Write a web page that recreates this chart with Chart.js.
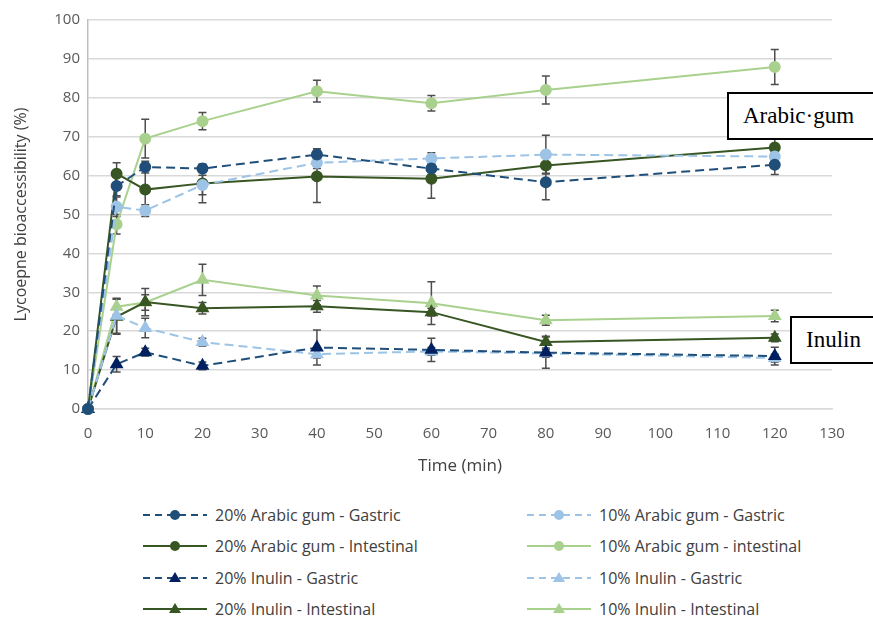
<!DOCTYPE html>
<html lang="en">
<head>
    <meta charset="UTF-8">
    <title>Lycopene bioaccessibility</title>
    <script src="https://cdn.jsdelivr.net/npm/chart.js"></script>
    <style>
        body { margin: 0; background: #fff; }
        #wrap { position: relative; width: 873px; height: 618px; overflow: hidden; }
        .note {
            position: absolute; background: #fff; border: 2px solid #000;
            font-family: 'Liberation Serif', serif; font-size: 23px; color: #000;
            box-sizing: border-box; padding-left: 14px; line-height: 44px; height: 48px;
        }
        #legend {
            position: absolute; left: 143px; top: 499px;
            display: grid; grid-template-columns: 384px 300px; row-gap: 0;
            font-family: 'Open Sans', sans-serif; font-size: 16px; color: #404040;
        }
        .item { display: flex; align-items: center; height: 31.5px; white-space: nowrap; }
        .item svg { margin-right: 8px; }
    </style>
</head>
<body>
<div id="wrap">
    <canvas id="chart" width="873" height="480"></canvas>
    <div class="note" style="left:727px; top:92px; width:160px;">Arabic·gum</div>
    <div class="note" style="left:790px; top:316px; width:100px;">Inulin</div>
    <div id="legend"></div>
</div>

<script>
    // sampling times (min)
    const times = [0, 5, 10, 20, 40, 60, 80, 120];

    // series means and error (±)
    const ag20Gastric       = [0, 57.3, 62.2, 61.8, 65.4, 61.8, 58.3, 62.8];
    const ag20GastricErr    = [0, 2.5, 1.5, 1.0, 1.5, 1.5, 4.5, 2.5];
    const ag10Gastric       = [0, 52.0, 51.0, 57.6, 63.3, 64.4, 65.4, 64.9];
    const ag10GastricErr    = [0, 2.5, 1.5, 2.5, 1.5, 1.5, 5.0, 1.0];
    const ag20Intestinal    = [0, 60.5, 56.4, 58.0, 59.8, 59.2, 62.6, 67.2];
    const ag20IntestinalErr = [0, 2.8, 5.0, 5.0, 6.7, 5.0, 2.0, 2.5];
    const ag10Intestinal    = [0, 47.5, 69.5, 74.0, 81.7, 78.6, 82.0, 87.9];
    const ag10IntestinalErr = [0, 2.5, 5.0, 2.2, 2.8, 2.0, 3.6, 4.5];
    const in20Gastric       = [0, 11.5, 14.6, 11.1, 15.8, 15.2, 14.5, 13.6];
    const in20GastricErr    = [0, 2.0, 1.0, 1.0, 4.5, 3.0, 4.0, 2.3];
    const in10Gastric       = [0, 24.0, 20.8, 17.2, 14.1, 14.8, 14.3, 13.1];
    const in10GastricErr    = [0, 4.5, 2.5, 1.0, 1.0, 1.0, 1.0, 1.0];
    const in20Intestinal    = [0, 23.7, 27.5, 25.9, 26.4, 24.9, 17.2, 18.3];
    const in20IntestinalErr = [0, 4.5, 3.5, 1.5, 1.5, 1.0, 1.5, 1.0];
    const in10Intestinal    = [0, 26.3, 27.4, 33.2, 29.2, 27.2, 22.8, 23.9];
    const in10IntestinalErr = [0, 2.0, 2.0, 4.0, 2.4, 5.5, 1.3, 1.5];

    const labels = [
        '20% Arabic gum - Gastric', '10% Arabic gum - Gastric',
        '20% Arabic gum - Intestinal', '10% Arabic gum - intestinal',
        '20% Inulin - Gastric', '10% Inulin - Gastric',
        '20% Inulin - Intestinal', '10% Inulin - Intestinal'
    ];

    const FONT = "'Open Sans', sans-serif";

    function series(label, values, errors, line, marker, dashed, shape) {
        return {
            label: label,
            data: times.map((t, i) => ({ x: t, y: values[i] })),
            errors: errors,
            borderColor: line,
            backgroundColor: marker,
            pointBackgroundColor: marker,
            pointBorderColor: marker,
            borderWidth: 2,
            borderDash: dashed ? [9, 5] : [],
            pointStyle: shape,
            pointRadius: shape === 'triangle' ? 6 : 5,
            clip: false,
            tension: 0
        };
    }

    const datasets = [
        series(labels[0], ag20Gastric, ag20GastricErr, '#1F4E79', '#1F4E79', true, 'circle'),
        series(labels[1], ag10Gastric, ag10GastricErr, '#9DC3E6', '#9DC3E6', true, 'circle'),
        series(labels[2], ag20Intestinal, ag20IntestinalErr, '#375623', '#375623', false, 'circle'),
        series(labels[3], ag10Intestinal, ag10IntestinalErr, '#A9D18E', '#A9D18E', false, 'circle'),
        series(labels[4], in20Gastric, in20GastricErr, '#1F4E79', '#002060', true, 'triangle'),
        series(labels[5], in10Gastric, in10GastricErr, '#9DC3E6', '#9DC3E6', true, 'triangle'),
        series(labels[6], in20Intestinal, in20IntestinalErr, '#375623', '#375623', false, 'triangle'),
        series(labels[7], in10Intestinal, in10IntestinalErr, '#A9D18E', '#A9D18E', false, 'triangle')
    ];

    // error bars drawn from the scales, under the markers
    const errorBars = {
        id: 'errorBars',
        beforeDatasetsDraw(chart) {
            const ctx = chart.ctx;
            const y = chart.scales.y;
            ctx.save();
            ctx.strokeStyle = '#4d4d4d';
            ctx.lineWidth = 1.5;
            chart.data.datasets.forEach((ds, di) => {
                const meta = chart.getDatasetMeta(di);
                meta.data.forEach((pt, i) => {
                    const e = ds.errors[i];
                    if (!e) return;
                    const v = ds.data[i].y;
                    const top = y.getPixelForValue(v + e);
                    const bot = y.getPixelForValue(v - e);
                    const px = pt.x;
                    ctx.beginPath();
                    ctx.moveTo(px, top); ctx.lineTo(px, bot);
                    ctx.moveTo(px - 4, top); ctx.lineTo(px + 4, top);
                    ctx.moveTo(px - 4, bot); ctx.lineTo(px + 4, bot);
                    ctx.stroke();
                });
            });
            ctx.restore();
        }
    };

    new Chart(document.getElementById('chart'), {
        type: 'line',
        data: { datasets: datasets },
        plugins: [errorBars],
        options: {
            responsive: false,
            animation: false,
            layout: { padding: { top: 20, right: 41, bottom: 0, left: 0 } },
            plugins: { legend: { display: false }, tooltip: { enabled: false } },
            scales: {
                x: {
                    type: 'linear',
                    min: 0, max: 130,
                    ticks: { stepSize: 10, color: '#595959', padding: 16, font: { family: FONT, size: 15 } },
                    grid: { display: false, drawTicks: false },
                    border: { display: true, color: '#d9d9d9', width: 1.5 },
                    title: { display: true, text: 'Time (min)', color: '#404040', padding: { top: 0, bottom: 4 }, font: { family: FONT, size: 17 } },
                    afterFit(s) { s.height = 71; }
                },
                y: {
                    min: 0, max: 100,
                    ticks: { stepSize: 10, color: '#595959', padding: 8, font: { family: FONT, size: 15 } },
                    grid: { color: '#d9d9d9', lineWidth: 1.5, drawTicks: false },
                    border: { display: true, color: '#bfbfbf', width: 1.5 },
                    title: { display: true, text: 'Lycoepne bioaccessibility (%)', color: '#404040', padding: { top: 12, bottom: 0 }, font: { family: FONT, size: 16 } },
                    afterFit(s) { s.width = 88; }
                }
            }
        }
    });

    // legend in two columns
    const legend = document.getElementById('legend');
    datasets.forEach(ds => {
        const item = document.createElement('div');
        item.className = 'item';
        const dash = ds.borderDash.length ? 'stroke-dasharray="7 5"' : '';
        let mark;
        if (ds.pointStyle === 'triangle') {
            mark = `<polygon points="32,3 38,13 26,13" fill="${ds.pointBackgroundColor}"/>`;
        } else {
            mark = `<circle cx="32" cy="9" r="5" fill="${ds.pointBackgroundColor}"/>`;
        }
        item.innerHTML = `<svg width="64" height="18"><line x1="0" y1="9" x2="64" y2="9" stroke="${ds.borderColor}" stroke-width="2" ${dash}/>${mark}</svg><span>${ds.label}</span>`;
        legend.appendChild(item);
    });
</script>
</body>
</html>
